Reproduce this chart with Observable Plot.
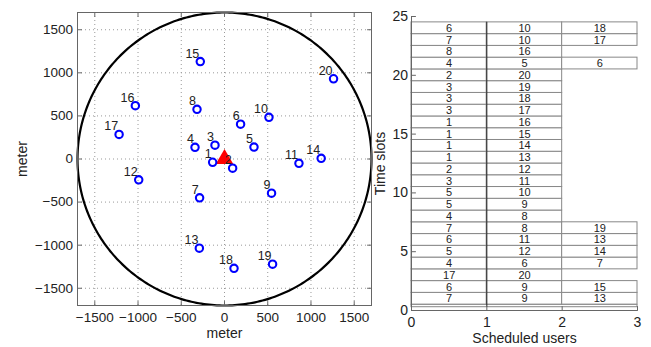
<!DOCTYPE html>
<html>
<head>
<meta charset="utf-8">
<script src="https://cdn.jsdelivr.net/npm/d3@7"></script>
<script src="https://cdn.jsdelivr.net/npm/@observablehq/plot@0.6"></script>
<style>
  html, body { margin: 0; padding: 0; background: #fff; }
  #wrap { position: relative; width: 651px; height: 347px; overflow: hidden; }
  #left, #right { position: absolute; top: 0; }
  #left { left: 0; }
  #right { left: 370px; }
  svg { overflow: visible; }
</style>
</head>
<body>
<div id="wrap"><div id="left"></div><div id="right"></div></div>
<script>
// ---- Data: user positions (meters) ----
const userIds = [1,2,3,4,5,6,7,8,9,10,11,12,13,14,15,16,17,18,19,20];
const userX = [-137, 94, -110, -341, 341, 186, -288, -318, 544, 514, 861, -992, -291, 1118, -280, -1031, -1219, 110, 556, 1261];
const userY = [-38, -107, 161, 135, 138, 404, -450, 577, -396, 484, -50, -242, -1035, 8, 1130, 619, 285, -1269, -1220, 931];
const baseStation = [{x: 0, y: 0}];
const cellRadius = 1700;
const meterTicks = [-1500, -1000, -500, 0, 500, 1000, 1500];

// ---- Data: scheduled users per time slot (slot 1 at bottom) ----
const slotNumbers = d3.range(1, 25);
const slotUsers = [
  [7, 9, 13], [6, 9, 15], [17, 20], [4, 6, 7], [5, 12, 14], [6, 11, 13],
  [7, 8, 19], [4, 8], [5, 9], [5, 10], [3, 11], [2, 12],
  [1, 13], [1, 14], [1, 15], [1, 16], [3, 17], [3, 18],
  [3, 19], [2, 20], [4, 5, 6], [8, 16], [7, 10, 17], [6, 10, 18]
];
const slotTicks = [0, 5, 10, 15, 20, 25];
const userTicks = [0, 1, 2, 3];

const users = userIds.map((id, i) => ({id, x: userX[i], y: userY[i]}));
const circlePts = d3.range(0, 361).map(a => ({
  x: cellRadius * Math.cos(a * Math.PI / 180),
  y: cellRadius * Math.sin(a * Math.PI / 180)
}));
const cells = [];
slotUsers.forEach((list, i) => list.forEach((u, c) => cells.push({slot: slotNumbers[i], col: c, user: u})));

const fmt = d => d < 0 ? "\u2212" + Math.abs(d) : String(d);
const tickShape = {draw(ctx, l) { ctx.moveTo(0, 0); ctx.lineTo(0, -l); }};
const axisColor = "#666";
const font = "Liberation Sans, Arial, Helvetica, sans-serif";

const inTicks = (data, opts) => Plot.vector(data, {
  ...opts, length: 4, anchor: "start", shape: tickShape, stroke: axisColor, strokeWidth: 1
});
const title = (txt, opts) => Plot.text([txt], {
  text: d => d, fontSize: 14, fill: "#222", textAnchor: "middle", lineAnchor: "middle", ...opts
});

// ---- Left panel ----
const left = Plot.plot({
  width: 381, height: 347,
  marginLeft: 77, marginRight: 10, marginTop: 12, marginBottom: 42,
  style: {fontFamily: font, fontSize: "13.5px", color: "#222", background: "transparent"},
  x: {domain: [-1700, 1700]},
  y: {domain: [-1700, 1700]},
  marks: [
    Plot.gridX(meterTicks, {stroke: "#999", strokeOpacity: 1, strokeDasharray: "1,3"}),
    Plot.gridY(meterTicks, {stroke: "#999", strokeOpacity: 1, strokeDasharray: "1,3"}),
    Plot.line(circlePts, {x: "x", y: "y", stroke: "#000", strokeWidth: 2.2}),
    Plot.frame({stroke: axisColor}),
    inTicks(meterTicks, {x: d => d, frameAnchor: "bottom", rotate: 0}),
    inTicks(meterTicks, {x: d => d, frameAnchor: "top", rotate: 180}),
    inTicks(meterTicks, {y: d => d, frameAnchor: "left", rotate: 90}),
    inTicks(meterTicks, {y: d => d, frameAnchor: "right", rotate: -90}),
    Plot.axisX({ticks: meterTicks, tickFormat: fmt, tickSize: 0, tickPadding: 7, label: null}),
    Plot.axisY({ticks: meterTicks, tickFormat: fmt, tickSize: 0, tickPadding: 4.5, label: null}),
    Plot.dot(baseStation, {x: "x", y: "y", symbol: "triangle", r: 6.5, fill: "#ff0000", stroke: "none"}),
    Plot.dot(users, {x: "x", y: "y", r: 3.7, stroke: "#0000ff", strokeWidth: 2.1, fill: "none"}),
    Plot.text(users, {x: "x", y: "y", text: "id", textAnchor: "end", dx: -1, dy: -8, fontSize: 12.5, fill: "#222"}),
    title("meter", {frameAnchor: "bottom", dy: 28}),
    title("meter", {frameAnchor: "left", dx: -55, rotate: -90})
  ]
});
document.getElementById("left").appendChild(left);

// ---- Right panel ----
const right = Plot.plot({
  width: 281, height: 347,
  marginLeft: 41, marginRight: 14, marginTop: 16, marginBottom: 37,
  style: {fontFamily: font, fontSize: "14px", color: "#222", background: "transparent"},
  x: {domain: [0, 3]},
  y: {domain: [0, 25]},
  marks: [
    Plot.rect([{}], {x1: 0, x2: 3, y1: 0.28, y2: 0.48, fill: "white", stroke: "#888"}),
    Plot.rect(cells, {x1: "col", x2: d => d.col + 1, y1: d => d.slot - 0.5, y2: d => d.slot + 0.5, fill: "white", stroke: "#888", strokeWidth: 1}),
    Plot.ruleX([1], {y1: 0.28, y2: slotNumbers.length + 0.5, stroke: "#222"}),
    Plot.text(cells, {x: d => d.col + 0.5, y: "slot", text: "user", fontSize: 11, fill: "#222"}),
    Plot.ruleX([0], {stroke: axisColor}),
    Plot.ruleY([0], {stroke: axisColor}),
    inTicks(slotTicks, {y: d => d, frameAnchor: "left", rotate: 90}),
    inTicks(userTicks, {x: d => d, frameAnchor: "bottom", rotate: 0}),
    Plot.axisX({ticks: userTicks, tickFormat: fmt, tickSize: 0, tickPadding: 6.5, label: null}),
    Plot.axisY({ticks: slotTicks, tickFormat: fmt, tickSize: 0, tickPadding: 3.5, label: null}),
    title("Scheduled users", {frameAnchor: "bottom", dy: 28.5}),
    title("Time slots", {frameAnchor: "left", dx: -31, rotate: -90})
  ]
});
document.getElementById("right").appendChild(right);
</script>
</body>
</html>
